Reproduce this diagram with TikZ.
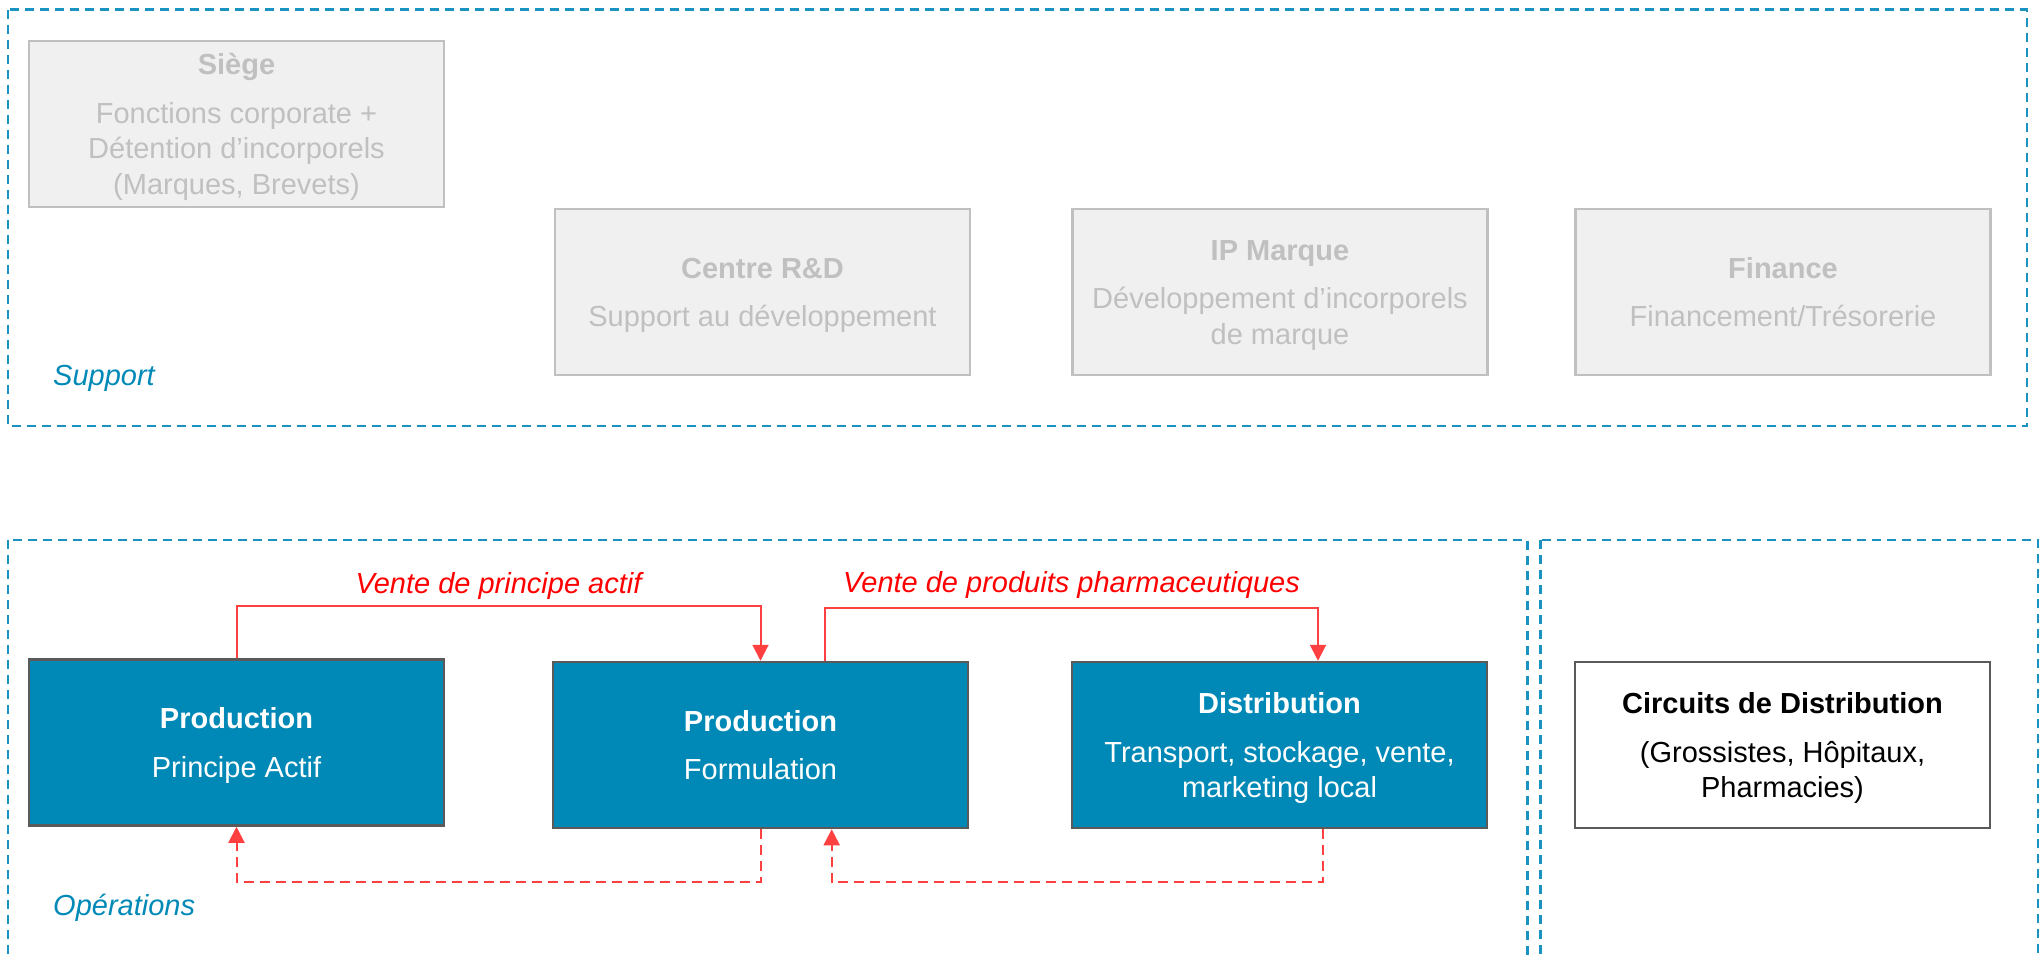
\documentclass[tikz,border=0pt]{standalone}
\usepackage{fontspec}
\setmainfont{Liberation Sans}
\usetikzlibrary{arrows.meta}
\definecolor{teal}{HTML}{0089B6}
\definecolor{darkborder}{HTML}{5A5A5A}
\definecolor{lightfill}{HTML}{F0F0F0}
\definecolor{lightgray}{HTML}{C0C0C0}
\definecolor{redline}{HTML}{FF4040}
\definecolor{redtext}{HTML}{FF0000}
\definecolor{zoneblue}{HTML}{1A93C0}
\newcommand\boxstrut{\rule[-6pt]{0pt}{33pt}}
\tikzset{
  basebox/.style={rectangle, minimum width=415pt, minimum height=166pt, inner sep=0pt,
    align=center, font=\fontsize{29}{35.5}\selectfont, line width=2.5pt},
  supportbox/.style={basebox, draw=lightgray, fill=lightfill, text=lightgray},
  opbox/.style={basebox, draw=darkborder, fill=teal, text=white},
  extbox/.style={basebox, draw=darkborder, fill=white, text=black},
  zone/.style={draw=zoneblue, line width=2.5pt, dash pattern=on 9pt off 6pt},
  zonelabel/.style={anchor=base west, inner sep=0pt, text=teal, font=\fontsize{29}{35}\selectfont\itshape},
  sale/.style={draw=redline, line width=2pt, -{Triangle[length=16pt,width=16pt]}},
  backflow/.style={sale, dash pattern=on 10pt off 6pt},
  salelabel/.style={anchor=base, inner sep=0pt, text=redtext, font=\fontsize{29}{35}\selectfont\itshape}
}
\begin{document}
\begin{tikzpicture}[x=1pt,y=-1pt]
\useasboundingbox (0,0) rectangle (2039,954);
\clip (0,0) rectangle (2039,954);
% zones
\draw[zone] (8,9.5) rectangle (2027,426);
\draw[zone] (8,540) rectangle (1527.5,1000);
\draw[zone] (1540.5,540) rectangle (2038,1000);
\node[zonelabel] (lsupport) at (53,385) {Support};
\node[zonelabel] (lops) at (53,915) {Opérations};
% support boxes
\node[supportbox] (siege) at (236.5,124) {\boxstrut\textbf{Siège}\\[13pt]Fonctions corporate +\\Détention d’incorporels\\(Marques, Brevets)\boxstrut};
\node[supportbox] (rd) at (762.5,292) {\boxstrut\textbf{Centre R\&D}\\[13pt]Support au développement\boxstrut};
\node[supportbox] (ip) at (1280,292) {\boxstrut\textbf{IP Marque}\\[13pt]Développement d’incorporels\\de marque\boxstrut};
\node[supportbox] (fin) at (1783,292) {\boxstrut\textbf{Finance}\\[13pt]Financement/Trésorerie\boxstrut};
% operations boxes
\node[opbox] (pa) at (236.5,742.5) {\boxstrut\textbf{Production}\\[13pt]Principe Actif\boxstrut};
\node[opbox] (form) at (760.5,745) {\boxstrut\textbf{Production}\\[13pt]Formulation\boxstrut};
\node[opbox] (dist) at (1279.5,745) {\boxstrut\textbf{Distribution}\\[13pt]Transport, stockage, vente,\\marketing local\boxstrut};
\node[extbox] (circ) at (1782.5,745) {\boxstrut\textbf{Circuits de Distribution}\\[13pt](Grossistes, Hôpitaux,\\Pharmacies)\boxstrut};
% flows
\draw[sale] (pa.north) -- ++(0,-52) -| node[salelabel, pos=0.25, yshift=13pt] (l1) {Vente de principe actif} (form.north);
\draw[sale] ([xshift=64.5pt]form.north) -- ++(0,-53) -| node[salelabel, pos=0.25, yshift=15pt] (l2) {Vente de produits pharmaceutiques} ([xshift=38.5pt]dist.north);
\draw[backflow] (form.south) -- ++(0,53) -| (pa.south);
\draw[backflow] ([xshift=43.5pt]dist.south) -- ++(0,53) -| ([xshift=71.2pt]form.south);
\end{tikzpicture}
\end{document}
